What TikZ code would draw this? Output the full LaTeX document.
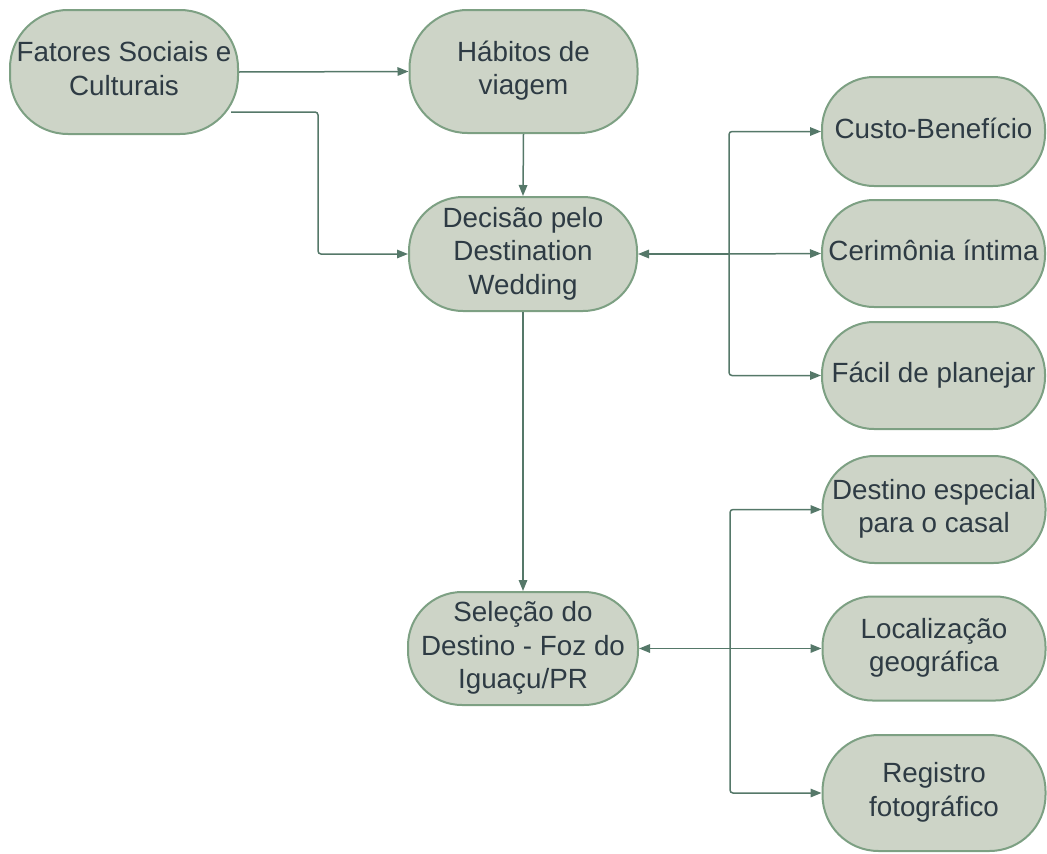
\documentclass[tikz,border=0pt]{standalone}
\usepackage{fontspec}
\setmainfont{Liberation Sans}
\usetikzlibrary{arrows.meta}
\definecolor{boxfill}{HTML}{CDD4C7}
\definecolor{boxline}{HTML}{7DA083}
\definecolor{conn}{HTML}{557869}
\definecolor{txt}{HTML}{2E3B44}
\newcommand{\mltext}[1]{\begin{tabular}{@{}c@{}}#1\end{tabular}}
\begin{document}
\begin{tikzpicture}[x=1pt,y=-1pt,
  box/.style={draw=boxline, fill=boxfill, line width=2pt, rounded corners=52pt,
    inner sep=0pt, text=txt, font=\fontsize{27.8pt}{33.4pt}\selectfont},
  wide/.style={box, minimum width=228pt},
  side/.style={box, minimum width=223pt},
  link/.style={draw=conn, line width=1.5pt, rounded corners=3pt,
    -{Triangle[length=11pt,width=8.5pt]}}]
\useasboundingbox (0,0) rectangle (1047,854);

\node[wide, minimum height=124pt, rounded corners=58pt] (fat) at (124,72) {\mltext{Fatores Sociais e\\Culturais}};
\node[wide, minimum height=123pt, rounded corners=58pt] (hab) at (523.5,71.5) {\mltext{Hábitos de\\viagem}};
\node[wide, minimum height=114pt, rounded corners=54pt] (dec) at (523,254) {\mltext{Decisão pelo\\Destination\\Wedding}};
\node[wide, minimum width=230pt, minimum height=113pt, rounded corners=54pt] (sel) at (523,648.5) {\mltext{Seleção do\\Destino - Foz do\\Iguaçu/PR}};

\node[side, minimum height=109pt] (cus) at (933.5,131.5) {\mltext{Custo-Benefício}};
\node[side, minimum height=107pt] (cer) at (933.5,253.5) {\mltext{Cerimônia íntima}};
\node[side, minimum height=107pt] (fac) at (933.5,375.5) {\mltext{Fácil de planejar}};
\node[side, minimum height=107pt] (des) at (934,509.5) {\mltext{Destino especial\\para o casal}};
\node[side, minimum height=104pt, rounded corners=50pt] (loc) at (934,648.5) {\mltext{Localização\\geográfica}};
\node[side, minimum height=116pt, rounded corners=56pt] (reg) at (934,793) {\mltext{Registro\\fotográfico}};

\coordinate (j1) at (729,254);
\coordinate (j2) at (730,648.5);

\draw[link] (fat.east) -- (hab.west);
\draw[link] ([xshift=-8pt,yshift=-40pt]fat.east) -| (318,180) |- (dec.west);
\draw[link] (hab.south) -- (dec.north);
\draw[link] (dec.south) -- (sel.north);

\draw[link] (j1) -- (dec.east);
\draw[link] (j1) |- (cus.west);
\draw[link] (j1) -- (cer.west);
\draw[link] (j1) |- (fac.west);

\draw[link] (j2) -- (sel.east);
\draw[link] (j2) |- (des.west);
\draw[link] (j2) -- (loc.west);
\draw[link] (j2) |- (reg.west);
\end{tikzpicture}
\end{document}
